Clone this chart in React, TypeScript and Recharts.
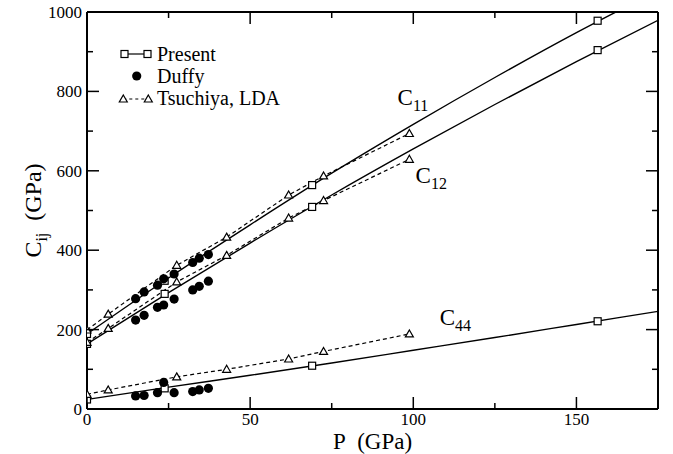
import React from "react";
import { ComposedChart, Line, Scatter, XAxis, YAxis, Legend, ReferenceDot } from "recharts";

// pressure (GPa) of each data set
const pressurePresent = [0, 23.8, 69, 156.5];
const pressureFit = [0, 25, 50, 75, 100, 125, 150, 175];
const pressureDuffy = [14.9, 17.5, 21.6, 23.5, 26.7, 32.4, 34.4, 37.2];
const pressureLDA = [0, 6.5, 27.5, 42.8, 61.8, 72.5, 98.8];

// present calculation, markers
const c11Present = [189, 323, 564, 978];
const c12Present = [164, 290, 509, 904];
const c44Present = [24, 52, 109, 221];

// smooth fits through the present results
const c11Fit = [189, 330, 464, 594, 717, 835, 948, 1054];
const c12Fit = [164, 293, 418, 539, 655, 767, 875, 979];
const c44Fit = [24, 55, 85, 116, 148, 180, 213, 246];

// Duffy experiment
const c11Duffy = [278, 295, 312, 328, 340, 369, 380, 389];
const c12Duffy = [224, 236, 256, 262, 277, 300, 309, 322];
const c44Duffy = [33, 34, 41, 67, 41, 44, 48, 52];

// Tsuchiya, LDA
const c11LDA = [199, 239, 362, 433, 539, 587, 694];
const c12LDA = [168, 203, 320, 387, 481, 525, 629];
const c44LDA = [37, 48, 81, 100, 126, 145, 189];

const xTicks = [0, 25, 50, 75, 100, 125, 150];
const yTicks = [0, 100, 200, 300, 400, 500, 600, 700, 800, 900, 1000];

const FONT = "'Liberation Serif', 'Times New Roman', serif";

const toPoints = (ps: number[], vs: number[]) => ps.map((p, i) => ({ p, v: vs[i] }));

const Square = (props: any) => {
  const { cx, cy } = props;
  if (cx == null || cy == null) return null;
  return <rect x={cx - 3.5} y={cy - 3.5} width={7} height={7} fill="#fff" stroke="#000" strokeWidth={1.2} />;
};

const Dot = (props: any) => {
  const { cx, cy } = props;
  if (cx == null || cy == null) return null;
  return <circle cx={cx} cy={cy} r={4.6} fill="#000" />;
};

const Triangle = (props: any) => {
  const { cx, cy } = props;
  if (cx == null || cy == null) return null;
  return (
    <path
      d={`M${cx},${cy - 4} L${cx + 4},${cy + 3} L${cx - 4},${cy + 3} Z`}
      fill="#fff"
      stroke="#000"
      strokeWidth={1.2}
    />
  );
};

// ticks point into the plot, labels only on the major ones
const BottomTick = (props: any) => {
  const { x, y, payload } = props;
  const major = payload.value % 50 === 0;
  return (
    <g>
      <line x1={x} y1={y} x2={x} y2={y - (major ? 12 : 6)} stroke="#000" strokeWidth={1.5} />
      {major && (
        <text x={x} y={y + 16} textAnchor="middle" fontSize={17} fontFamily={FONT} fill="#000">
          {payload.value}
        </text>
      )}
    </g>
  );
};

const TopTick = (props: any) => {
  const { x, y, payload } = props;
  const major = payload.value % 50 === 0;
  return <line x1={x} y1={y} x2={x} y2={y + (major ? 12 : 6)} stroke="#000" strokeWidth={1.5} />;
};

const LeftTick = (props: any) => {
  const { x, y, payload } = props;
  const major = payload.value % 200 === 0;
  return (
    <g>
      <line x1={x} y1={y} x2={x + (major ? 12 : 6)} y2={y} stroke="#000" strokeWidth={1.5} />
      {major && (
        <text x={x - 5} y={y + 6} textAnchor="end" fontSize={17} fontFamily={FONT} fill="#000">
          {payload.value}
        </text>
      )}
    </g>
  );
};

const RightTick = (props: any) => {
  const { x, y, payload } = props;
  const major = payload.value % 200 === 0;
  return <line x1={x} y1={y} x2={x - (major ? 12 : 6)} y2={y} stroke="#000" strokeWidth={1.5} />;
};

const XTitle = (props: any) => {
  const { x, y, width } = props.viewBox;
  return (
    <text x={x + width / 2} y={y + 40} textAnchor="middle" fontSize={23} fontFamily={FONT} fill="#000">
      {"P\u00a0\u00a0(GPa)"}
    </text>
  );
};

const YTitle = (props: any) => {
  const { x, y, height } = props.viewBox;
  const cx = x - 45;
  const cy = y + height / 2;
  return (
    <text
      x={cx}
      y={cy}
      transform={`rotate(-90 ${cx} ${cy})`}
      textAnchor="middle"
      fontSize={24}
      fontFamily={FONT}
      fill="#000"
    >
      C
      <tspan fontSize={16} dy={6}>ij</tspan>
      <tspan dy={-6}>{"\u00a0\u00a0(GPa)"}</tspan>
    </text>
  );
};

// C with a subscript, placed at a data position
const subLabel = (sub: string) => (props: any) => {
  const { x, y } = props.viewBox;
  return (
    <text x={x} y={y} fontSize={23} fontFamily={FONT} fill="#000">
      C
      <tspan fontSize={16} dy={6}>{sub}</tspan>
    </text>
  );
};

const LegendBox = () => (
  <svg width={180} height={80} style={{ display: "block", overflow: "visible" }}>
    <line x1={14.5} y1={16} x2={37.5} y2={16} stroke="#000" strokeWidth={1.2} />
    <Square cx={14.5} cy={16} />
    <Square cx={37.5} cy={16} />
    <text x={47} y={23} fontSize={20} fontFamily={FONT} fill="#000">Present</text>
    <Dot cx={26.7} cy={38} />
    <text x={47} y={45} fontSize={20} fontFamily={FONT} fill="#000">Duffy</text>
    <line x1={13.3} y1={61} x2={38.3} y2={61} stroke="#000" strokeWidth={1.2} strokeDasharray="3 3" />
    <Triangle cx={13.3} cy={61} />
    <Triangle cx={38.3} cy={61} />
    <text x={47} y={67} fontSize={20} fontFamily={FONT} fill="#000">Tsuchiya, LDA</text>
  </svg>
);

const triangleDot = (p: any) => <Triangle key={p.index} {...p} />;

export default function App() {
  return (
    <div style={{ position: "absolute", left: 0, top: 0, background: "#fff" }}>
      <ComposedChart width={673} height={454} margin={{ top: 11, right: 14, bottom: 44, left: 86 }}>
        <XAxis
          dataKey="p"
          type="number"
          domain={[0, 175]}
          allowDataOverflow
          ticks={xTicks}
          interval={0}
          height={1}
          tickSize={0}
          tickMargin={0}
          tickLine={false}
          tick={<BottomTick />}
          axisLine={{ stroke: "#000", strokeWidth: 2 }}
          label={XTitle}
        />
        <XAxis
          xAxisId="top"
          orientation="top"
          dataKey="p"
          type="number"
          domain={[0, 175]}
          allowDataOverflow
          ticks={xTicks}
          interval={0}
          height={1}
          tickSize={0}
          tickMargin={0}
          tickLine={false}
          tick={<TopTick />}
          axisLine={{ stroke: "#000", strokeWidth: 2 }}
        />
        <YAxis
          type="number"
          domain={[0, 1000]}
          allowDataOverflow
          ticks={yTicks}
          interval={0}
          width={1}
          tickSize={0}
          tickMargin={0}
          tickLine={false}
          tick={<LeftTick />}
          axisLine={{ stroke: "#000", strokeWidth: 2 }}
          label={YTitle}
        />
        <YAxis
          yAxisId="right"
          orientation="right"
          type="number"
          domain={[0, 1000]}
          allowDataOverflow
          ticks={yTicks}
          interval={0}
          width={1}
          tickSize={0}
          tickMargin={0}
          tickLine={false}
          tick={<RightTick />}
          axisLine={{ stroke: "#000", strokeWidth: 2 }}
        />

        <Line data={toPoints(pressureFit, c11Fit)} dataKey="v" type="monotone" stroke="#000" strokeWidth={1.4} dot={false} isAnimationActive={false} />
        <Line data={toPoints(pressureFit, c12Fit)} dataKey="v" type="monotone" stroke="#000" strokeWidth={1.4} dot={false} isAnimationActive={false} />
        <Line data={toPoints(pressureFit, c44Fit)} dataKey="v" type="monotone" stroke="#000" strokeWidth={1.4} dot={false} isAnimationActive={false} />

        <Line data={toPoints(pressureLDA, c11LDA)} dataKey="v" type="linear" stroke="#000" strokeWidth={1.2} strokeDasharray="4 3" dot={triangleDot} isAnimationActive={false} />
        <Line data={toPoints(pressureLDA, c12LDA)} dataKey="v" type="linear" stroke="#000" strokeWidth={1.2} strokeDasharray="4 3" dot={triangleDot} isAnimationActive={false} />
        <Line data={toPoints(pressureLDA, c44LDA)} dataKey="v" type="linear" stroke="#000" strokeWidth={1.2} strokeDasharray="4 3" dot={triangleDot} isAnimationActive={false} />

        <Scatter data={toPoints(pressurePresent, c11Present)} dataKey="v" shape={<Square />} isAnimationActive={false} />
        <Scatter data={toPoints(pressurePresent, c12Present)} dataKey="v" shape={<Square />} isAnimationActive={false} />
        <Scatter data={toPoints(pressurePresent, c44Present)} dataKey="v" shape={<Square />} isAnimationActive={false} />

        <Scatter data={toPoints(pressureDuffy, c11Duffy)} dataKey="v" shape={<Dot />} isAnimationActive={false} />
        <Scatter data={toPoints(pressureDuffy, c12Duffy)} dataKey="v" shape={<Dot />} isAnimationActive={false} />
        <Scatter data={toPoints(pressureDuffy, c44Duffy)} dataKey="v" shape={<Dot />} isAnimationActive={false} />

        <ReferenceDot x={95.2} y={766} r={0} fill="none" stroke="none" label={subLabel("11")} />
        <ReferenceDot x={100.7} y={569} r={0} fill="none" stroke="none" label={subLabel("12")} />
        <ReferenceDot x={108.1} y={212} r={0} fill="none" stroke="none" label={subLabel("44")} />

        <Legend
          layout="vertical"
          align="center"
          verticalAlign="middle"
          content={<LegendBox />}
          wrapperStyle={{ left: 110, top: 38, width: 180, height: 80 }}
        />
      </ComposedChart>
    </div>
  );
}
